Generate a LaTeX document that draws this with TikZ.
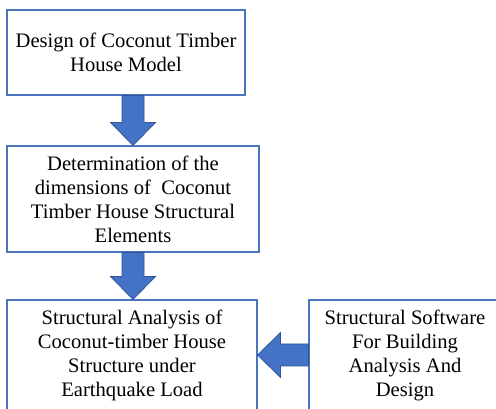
\documentclass[tikz,border=0pt]{standalone}
\usepackage{fontspec}
\setmainfont{Liberation Serif}
\usetikzlibrary{calc}
\usetikzlibrary{positioning}
\definecolor{boxline}{HTML}{4A74BE}
\definecolor{arrowfill}{HTML}{4472C4}
\definecolor{arrowline}{HTML}{2F5597}
\tikzset{
  stepbox/.style={draw=boxline, line width=1.1pt, fill=white, align=center,
    inner sep=0pt, font=\fontsize{20.6}{24}\selectfont},
  blockarrow/.style={fill=arrowfill, draw=arrowline, line width=0.8pt,
    to path={let \p1=(\tikztostart), \p2=(\tikztotarget),
      \n1={atan2(\y2-\y1,\x2-\x1)}, \n2={veclen(\x2-\x1,\y2-\y1)} in
      {[shift={(\p1)}, rotate=\n1]
        (0,-11) -- (\n2-23,-11) -- (\n2-23,-22.5) -- (\n2,0)
        -- (\n2-23,22.5) -- (\n2-23,11) -- (0,11) -- cycle}}}
}
\begin{document}
\begin{tikzpicture}[x=1pt,y=1pt]
  \useasboundingbox (0,0) rectangle (496,409);
  \fill[white] (0,0) rectangle (496,409);
  \clip (0,0) rectangle (496,409);

  \node[stepbox, minimum width=238, minimum height=85] at (126,356.5) (design)
    {Design of Coconut Timber\\House Model};
  \node[stepbox, minimum width=252, minimum height=106] at (133,210) (dims)
    {Determination of the\\dimensions of \ Coconut\\Timber House Structural\\Elements};
  \node[stepbox, minimum width=250, minimum height=110] at (132,54) (analysis)
    {Structural Analysis of\\Coconut-timber House\\Structure under\\Earthquake Load};
  \node[stepbox, minimum width=192, minimum height=110] at (405,54) (software)
    {Structural Software\\For Building\\Analysis And\\Design};

  \draw[blockarrow] (dims.north |- design.south) to (dims.north);
  \draw[blockarrow] (dims.south) to (dims.south |- analysis.north);
  \draw[blockarrow] (software.west) to (analysis.east);
\end{tikzpicture}
\end{document}
